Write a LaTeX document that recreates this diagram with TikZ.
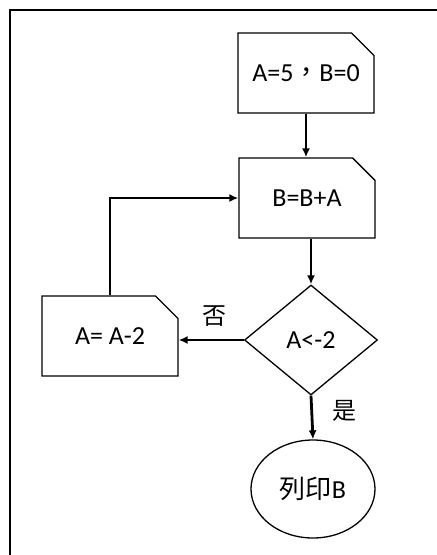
\documentclass[tikz,border=0pt]{standalone}
\usepackage{fontspec}
\setmainfont{Carlito}
\newfontfamily\cjk{Noto Sans CJK TC}
\usetikzlibrary{shapes.misc,shapes.geometric,arrows.meta}

\tikzset{
    snipbox/.style={chamfered rectangle, chamfered rectangle corners=north east,
        chamfered rectangle xsep=14pt, chamfered rectangle ysep=14pt,
        draw, line width=1.3pt, minimum width=136pt, minimum height=80pt,
        inner sep=0pt, font=\fontsize{26}{30}\selectfont},
    flow/.style={line width=2.8pt, -{Latex[length=9pt,width=8pt]}},
}

\begin{document}
\begin{tikzpicture}[x=1pt,y=-1pt]
    \useasboundingbox (0,0) rectangle (437,555);
    % frame
    \draw[line width=1.6pt] (10,555) -- (10,10) -- (437,10);

    % blocks
    \node[snipbox] (init) at (306,73) {A=5{\cjk ，}B=0};
    \node[snipbox] (sum) at (307,198) {B=B+A};
    \node[snipbox] (dec) at (110,336) {A= A-2};
    \node[diamond, draw, line width=1.3pt, minimum width=133pt, minimum height=110pt,
        inner sep=0pt, font=\fontsize{26}{30}\selectfont] (test) at (311,340) {A<-2};
    \node[ellipse, draw, line width=1.3pt, minimum width=124pt, minimum height=98pt,
        inner sep=0pt, font=\fontsize{26}{30}\selectfont] (out) at (313,489) {{\cjk 列印}B};

    % arrows
    \draw[flow] (init.south) -- (sum.north -| init.south);
    \draw[flow] (sum.south -| test.north) -- (test.north);
    \draw[flow] (test.west) -- (dec.east |- test.west)
        node[pos=0.45, above=9pt, font=\cjk\fontsize{24}{28}\selectfont] {否};
    \draw[flow] (test.south) -- (out.north)
        node[pos=0.35, right=16pt, font=\cjk\fontsize{24}{28}\selectfont] {是};
    \draw[flow] (dec.north) -- (dec.north |- sum.west) -- (sum.west);
\end{tikzpicture}
\end{document}
